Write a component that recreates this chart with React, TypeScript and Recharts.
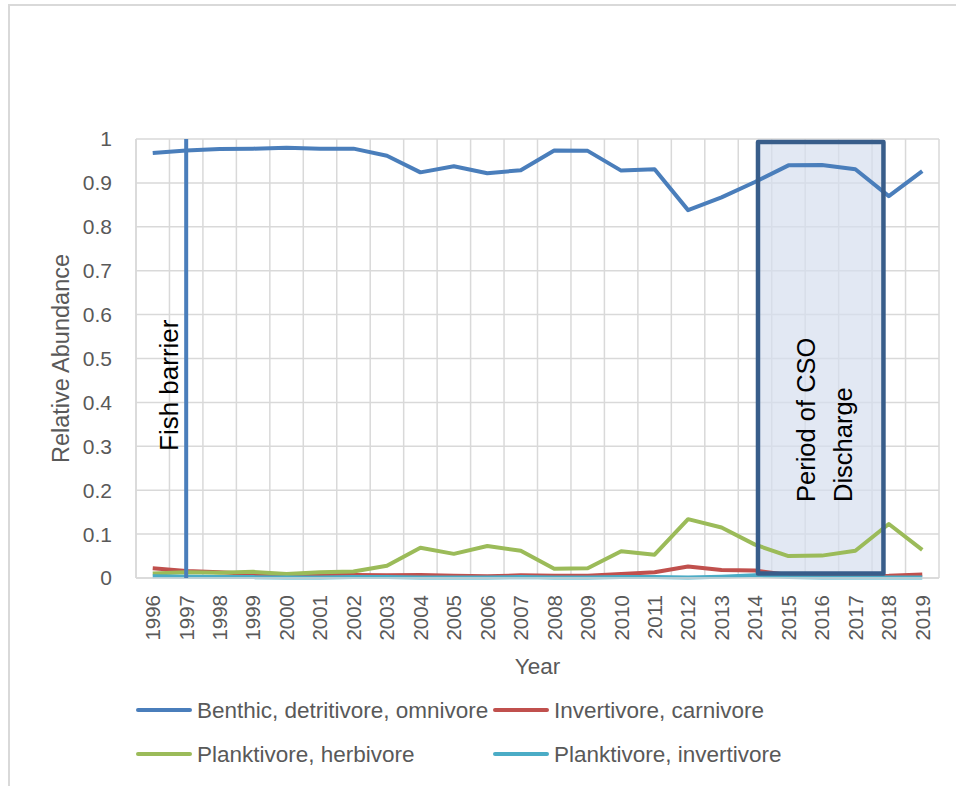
import React from 'react';
import {
  LineChart,
  Line,
  XAxis,
  YAxis,
  CartesianGrid,
  ReferenceLine,
  ReferenceArea,
} from 'recharts';

const FONT = '"Liberation Sans", Arial, sans-serif';
const GREY_TEXT = '#595959';
const GRID = '#D9D9D9';

const YEARS = [
  '1996', '1997', '1998', '1999', '2000', '2001', '2002', '2003',
  '2004', '2005', '2006', '2007', '2008', '2009', '2010', '2011',
  '2012', '2013', '2014', '2015', '2016', '2017', '2018', '2019',
];

const BENTHIC = [
  0.968, 0.974, 0.977, 0.978, 0.98, 0.978, 0.978, 0.962,
  0.924, 0.938, 0.922, 0.929, 0.974, 0.973, 0.928, 0.931,
  0.838, 0.867, 0.902, 0.94, 0.941, 0.931, 0.87, 0.927,
];
const INVERTIVORE_CARNIVORE = [
  0.022, 0.016, 0.013, 0.009, 0.009, 0.008, 0.007, 0.006,
  0.007, 0.005, 0.004, 0.006, 0.005, 0.005, 0.009, 0.013,
  0.026, 0.018, 0.017, 0.007, 0.004, 0.004, 0.005, 0.008,
];
const PLANKTIVORE_HERBIVORE = [
  0.01, 0.013, 0.012, 0.014, 0.009, 0.013, 0.015, 0.028,
  0.069, 0.055, 0.073, 0.062, 0.021, 0.022, 0.061, 0.053,
  0.134, 0.115, 0.076, 0.05, 0.051, 0.062, 0.123, 0.064,
];
const PLANKTIVORE_INVERTIVORE = [
  0.004, 0.003, 0.002, 0.002, 0.001, 0.001, 0.002, 0.002,
  0.001, 0.001, 0.001, 0.002, 0.001, 0.001, 0.002, 0.002,
  0.001, 0.003, 0.006, 0.002, 0.001, 0.001, 0.001, 0.001,
];

const Y_TICKS = [0, 0.1, 0.2, 0.3, 0.4, 0.5, 0.6, 0.7, 0.8, 0.9, 1];

const FISH_BARRIER_YEAR = '1997';
const CSO_START = '2014';
const CSO_END = '2018';

const SERIES = [
  { key: 'benthic', name: 'Benthic, detritivore, omnivore', colour: '#4A7EBB', values: BENTHIC },
  { key: 'invCarn', name: 'Invertivore, carnivore', colour: '#C0504D', values: INVERTIVORE_CARNIVORE },
  { key: 'plankHerb', name: 'Planktivore, herbivore', colour: '#9BBB59', values: PLANKTIVORE_HERBIVORE },
  { key: 'plankInv', name: 'Planktivore, invertivore', colour: '#4BACC6', values: PLANKTIVORE_INVERTIVORE },
];

const data = YEARS.map((year, i) =>
  SERIES.reduce((row, s) => ({ ...row, [s.key]: s.values[i] }), { year } as Record<string, string | number>)
);

const W = 956;
const H = 786;
const MARGIN = { top: 139, right: 17, bottom: 108, left: 0 };

function YearTick(props: any) {
  const { x, y, payload } = props;
  return (
    <text
      x={x}
      y={y}
      transform={`rotate(-90, ${x}, ${y})`}
      textAnchor="end"
      dy="0.36em"
      fill={GREY_TEXT}
      fontSize={20.5}
      fontFamily={FONT}
    >
      {payload.value}
    </text>
  );
}

// CSO box was hand-drawn: it starts just after mid-2014 and stops a bit before mid-2018
function csoShape(withFill: boolean) {
  return (p: any) => {
    const band = p.width / 5;
    const left = p.x + band * 0.59;
    const right = p.x + p.width - band * 0.66;
    return (
      <rect
        x={left}
        y={p.y}
        width={right - left}
        height={p.height}
        fill={withFill ? '#D5DEEE' : 'none'}
        fillOpacity={withFill ? 0.7 : 0}
        stroke={withFill ? 'none' : '#385D8A'}
        strokeWidth={withFill ? 0 : 4.5}
        strokeLinejoin="round"
      />
    );
  };
}

// text that sits on top of everything: titles, notes, legend
function Overlay() {
  return (
    <svg
      width={W}
      height={H}
      style={{ position: 'absolute', left: 0, top: 0, pointerEvents: 'none' }}
      fontFamily={FONT}
    >
      <text x={69} y={358.5} transform="rotate(-90, 69, 358.5)" textAnchor="middle" fontSize={23.5} fill={GREY_TEXT}>
        Relative Abundance
      </text>
      <text x={537.5} y={674} textAnchor="middle" fontSize={22.5} fill={GREY_TEXT}>
        Year
      </text>
      <text x={178} y={451} transform="rotate(-90, 178, 451)" textAnchor="start" fontSize={26} fill="#000">
        Fish barrier
      </text>
      <text x={815} y={502} transform="rotate(-90, 815, 502)" textAnchor="start" fontSize={25.5} fill="#000">
        Period of CSO
      </text>
      <text x={852} y={502} transform="rotate(-90, 852, 502)" textAnchor="start" fontSize={25.5} fill="#000">
        Discharge
      </text>
      {SERIES.map((s, i) => {
        const lx = i % 2 === 0 ? 138 : 495;
        const ly = i < 2 ? 710 : 754;
        return (
          <g key={s.key}>
            <line x1={lx} y1={ly} x2={lx + 52} y2={ly} stroke={s.colour} strokeWidth={4} strokeLinecap="round" />
            <text x={lx + 59} y={ly} dy="0.36em" fontSize={22.5} fill={GREY_TEXT}>
              {s.name}
            </text>
          </g>
        );
      })}
    </svg>
  );
}

export default function App() {
  return (
    <div style={{ position: 'absolute', left: 0, top: 0, width: W, height: H, fontFamily: FONT }}>
      <div
        style={{
          position: 'absolute',
          left: 8,
          top: 4,
          width: 948,
          height: 782,
          borderTop: `2px solid ${GRID}`,
          borderLeft: `2px solid ${GRID}`,
          boxSizing: 'border-box',
        }}
      />
      <div style={{ position: 'absolute', left: 0, top: 0 }}>
        <LineChart width={W} height={H} data={data} margin={MARGIN}>
          <CartesianGrid
            stroke={GRID}
            strokeWidth={1.5}
            verticalCoordinatesGenerator={({ offset }: any) => {
              const w = offset.width ?? W - offset.left - offset.right;
              const pts = YEARS.map((_, i) => offset.left + (i * w) / YEARS.length);
              return [...pts, offset.left + w];
            }}
          />
          <XAxis
            dataKey="year"
            scale="band"
            height={100}
            interval={0}
            tickLine={false}
            tickSize={0}
            tickMargin={17}
            axisLine={{ stroke: GRID, strokeWidth: 1.5 }}
            tick={<YearTick />}
          />
          <YAxis
            width={136}
            domain={[0, 1]}
            ticks={Y_TICKS}
            interval={0}
            tickLine={false}
            tickSize={0}
            tickMargin={24}
            axisLine={{ stroke: GRID, strokeWidth: 1.5 }}
            tickFormatter={(v: number) => String(Number(v.toFixed(1)))}
            tick={{ fill: GREY_TEXT, fontSize: 21, fontFamily: FONT }}
          />
          <ReferenceArea
            x1={CSO_START}
            x2={CSO_END}
            y1={0.01}
            y2={0.993}
            shape={csoShape(true)}
            zIndex={50}
          />
          {SERIES.map((s) => (
            <Line
              key={s.key}
              type="linear"
              dataKey={s.key}
              name={s.name}
              stroke={s.colour}
              strokeWidth={4}
              strokeLinejoin="round"
              dot={false}
              activeDot={false}
              isAnimationActive={false}
            />
          ))}
          <ReferenceLine x={FISH_BARRIER_YEAR} stroke="#4A7EBB" strokeWidth={4} zIndex={900} />
          <ReferenceArea
            x1={CSO_START}
            x2={CSO_END}
            y1={0.01}
            y2={0.993}
            shape={csoShape(false)}
            zIndex={1000}
          />
        </LineChart>
      </div>
      <Overlay />
    </div>
  );
}
